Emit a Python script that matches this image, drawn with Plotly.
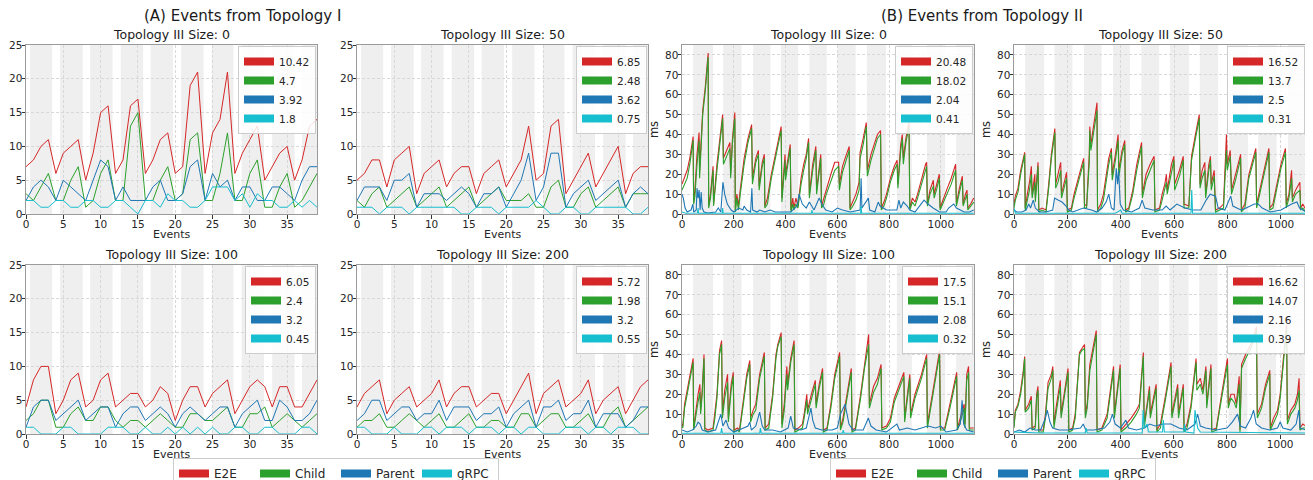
import plotly.graph_objects as go

FONT = "DejaVu Sans"
PAGE_W, PAGE_H = 1313, 480
OFF = 8                      # the browser's default body margin shifts the figure by 8 px
W, H = PAGE_W - OFF, PAGE_H - OFF

SERIES = ["E2E", "Child", "Parent", "gRPC"]
COLORS = ["#d62728", "#2ca02c", "#1f77b4", "#17becf"]

# ---------------- Topology I (events 0..39) ----------------
A_EVENTS = list(range(40))
A_SIZES = [0, 50, 100, 200]

A0_E2E = [7, 8, 10, 11, 6, 9, 10, 11, 5, 9, 15, 16, 6, 8, 16, 17, 6, 8, 11, 12, 6, 7, 19, 21, 6, 12, 14, 21, 6, 9, 11, 13, 5, 7, 9, 10, 5, 8, 13, 14]
A0_CHILD = [3, 2, 4, 6, 2, 2, 5, 7, 1, 2, 6, 8, 2, 2, 13, 15, 2, 2, 5, 7, 2, 3, 11, 12, 2, 2, 6, 12, 2, 2, 6, 8, 1, 1, 4, 6, 1, 2, 4, 6]
A0_PARENT = [2, 4, 5, 4, 2, 5, 4, 3, 2, 5, 8, 7, 2, 4, 2, 2, 2, 4, 5, 2, 2, 3, 7, 8, 2, 6, 4, 5, 2, 4, 4, 2, 2, 4, 4, 3, 2, 5, 7, 7]
A0_GRPC = [2, 2, 1, 1, 2, 2, 1, 1, 2, 2, 1, 1, 2, 2, 1, 0, 2, 2, 1, 3, 2, 2, 1, 1, 2, 4, 4, 4, 2, 3, 1, 3, 2, 2, 1, 1, 2, 1, 2, 1]

A1_E2E = [5, 6, 8, 8, 4, 8, 9, 10, 3, 6, 7, 8, 4, 6, 7, 7, 3, 6, 7, 8, 4, 6, 8, 13, 5, 6, 13, 14, 3, 5, 7, 9, 4, 6, 8, 10, 3, 6, 7, 7]
A1_CHILD = [2, 1, 3, 4, 1, 2, 3, 4, 1, 2, 3, 4, 1, 2, 3, 4, 1, 2, 3, 4, 2, 2, 2, 3, 1, 1, 4, 5, 1, 1, 3, 4, 1, 2, 3, 4, 1, 3, 3, 3]
A1_PARENT = [2, 4, 4, 4, 2, 5, 5, 6, 1, 3, 3, 3, 2, 3, 4, 3, 1, 3, 3, 4, 1, 3, 5, 9, 2, 4, 9, 9, 1, 3, 4, 5, 2, 3, 4, 5, 1, 3, 4, 3]
A1_GRPC = [1, 1, 1, 0, 1, 1, 1, 0, 1, 1, 1, 1, 1, 1, 0, 0, 1, 1, 1, 0, 1, 1, 1, 1, 2, 1, 0, 0, 1, 1, 0, 0, 1, 1, 1, 1, 1, 0, 0, 1]

A2_E2E = [4, 8, 10, 10, 3, 5, 8, 9, 4, 5, 8, 9, 4, 5, 6, 6, 4, 5, 7, 6, 2, 5, 7, 7, 4, 6, 7, 8, 3, 5, 7, 8, 7, 4, 7, 7, 4, 4, 6, 8]
A2_CHILD = [2, 3, 5, 5, 1, 1, 3, 4, 2, 2, 4, 4, 2, 1, 2, 2, 1, 2, 3, 2, 1, 1, 3, 3, 2, 2, 3, 4, 1, 1, 3, 3, 4, 1, 2, 3, 2, 1, 2, 3]
A2_PARENT = [1, 4, 5, 5, 2, 3, 4, 5, 2, 3, 4, 4, 1, 3, 4, 4, 2, 3, 4, 3, 1, 3, 4, 3, 2, 3, 4, 4, 1, 3, 4, 5, 2, 2, 5, 4, 2, 2, 3, 5]
A2_GRPC = [1, 1, 0, 0, 0, 1, 1, 0, 0, 0, 0, 1, 1, 1, 0, 0, 1, 0, 0, 1, 0, 1, 0, 1, 0, 1, 0, 0, 1, 1, 0, 0, 1, 1, 0, 0, 0, 1, 1, 0]

A3_E2E = [4, 6, 7, 8, 3, 5, 6, 7, 4, 5, 6, 8, 4, 6, 7, 7, 4, 5, 6, 6, 3, 5, 7, 9, 3, 6, 7, 8, 4, 5, 6, 8, 3, 5, 6, 7, 3, 5, 7, 8]
A3_CHILD = [1, 2, 2, 3, 1, 1, 2, 3, 2, 1, 2, 3, 1, 1, 2, 3, 1, 1, 2, 2, 1, 1, 3, 3, 1, 2, 3, 3, 1, 1, 2, 3, 1, 1, 3, 4, 1, 2, 3, 4]
A3_PARENT = [2, 3, 5, 5, 2, 3, 4, 4, 2, 3, 3, 5, 2, 4, 4, 4, 2, 3, 3, 4, 1, 3, 4, 5, 1, 4, 4, 5, 2, 3, 3, 5, 1, 3, 3, 3, 1, 2, 4, 4]
A3_GRPC = [1, 1, 0, 0, 0, 1, 0, 0, 0, 1, 1, 0, 1, 1, 1, 0, 1, 1, 1, 0, 1, 1, 0, 1, 1, 0, 0, 0, 1, 1, 1, 0, 1, 1, 0, 1, 1, 1, 0, 0]

A_MEANS = [["10.42", "4.7", "3.92", "1.8"], ["6.85", "2.48", "3.62", "0.75"],
           ["6.05", "2.4", "3.2", "0.45"], ["5.72", "1.98", "3.2", "0.55"]]

A_BANDS = [(0.55, 3.5), (4.55, 7.6), (8.6, 11.6), (12.7, 15.7), (16.7, 19.7),
           (20.8, 23.8), (24.9, 27.8), (28.9, 31.9), (33.0, 36.0), (37.0, 39.0)]

# ---------------- Topology II (sawtooth vertices: event, E2E, Child) ----------------
B_SIZES = [0, 50, 100, 200]

B0_E2E_CHILD = [(0,15,12),(10,19,15),(20,22,18),(30,28,25),(43,39,37),(45,6,5),(50,12,9),(58,30,25),(62,38,33),(66,41,37),(68,22,18),(72,32,28),(80,52,50),(90,64,62),(101,81,79),(103,4,3),(110,10,8),(120,24,22),(122,5,4),(135,25,22),(150,43,41),(157,50,48),(160,28,25),(170,31,28),(185,36,33),(188,20,18),(195,38,36),(204,51,48),(206,2,1),(212,10,8),(218,4,2),(225,12,10),(240,28,25),(255,38,36),(269,45,43),(272,18,15),(285,28,26),(295,32,30),(298,14,12),(310,26,24),(318,30,28),(320,4,3),(330,8,5),(345,20,18),(360,30,28),(372,38,36),(383,44,42),(386,8,6),(398,30,27),(400,20,17),(410,28,26),(418,35,33),(421,2,1),(428,8,5),(432,3,2),(440,8,5),(448,4,3),(460,18,15),(470,25,22),(480,30,28),(489,38,36),(492,10,8),(505,25,22),(517,34,32),(520,12,10),(528,22,19),(536,30,28),(539,4,3),(548,8,5),(555,12,9),(565,16,13),(575,20,17),(590,26,22),(605,26,24),(608,15,12),(620,24,21),(630,28,25),(646,34,32),(649,3,2),(660,6,4),(672,10,7),(684,16,12),(688,31,28),(700,38,35),(712,46,44),(716,22,19),(730,30,27),(745,36,34),(755,40,38),(767,42,40),(770,3,2),(780,6,4),(790,10,8),(805,18,16),(820,24,22),(831,27,25),(834,15,13),(845,35,32),(851,40,38),(855,28,25),(865,38,36),(877,46,44),(880,3,2),(890,8,6),(900,6,4),(910,10,8),(925,18,15),(941,25,22),(945,26,24),(948,5,4),(958,12,10),(971,17,14),(974,10,8),(985,15,13),(994,20,18),(997,3,2),(1010,8,6),(1025,13,11),(1040,18,15),(1057,25,22),(1060,5,4),(1070,12,10),(1083,19,17),(1086,5,4),(1095,10,8),(1101,12,10),(1104,3,2),(1115,5,4),(1127,8,6)]
B0_PARENT = [(0,10),(5,8),(12,3),(20,1),(35,2),(42,5),(45,1),(55,2),(58,13),(62,8),(66,12),(70,2),(74,11),(78,3),(85,1),(100,0.5),(130,1),(140,3),(150,1),(158,16),(165,10),(175,5),(190,2),(200,1),(210,2),(220,3),(235,2),(240,4),(250,2),(265,1),(270,13),(273,2),(290,1),(300,2),(320,1),(340,2),(360,1),(400,1),(420,1),(445,4),(452,10),(465,5),(480,3),(492,6),(510,2),(530,8),(540,5),(555,2),(580,1),(600,3),(620,2),(650,1),(688,2),(692,18),(695,3),(720,8),(725,2),(745,1),(758,6),(765,4),(790,2),(830,2),(838,7),(845,3),(855,6),(870,4),(880,2),(900,1),(935,7),(950,5),(970,3),(995,1),(1020,1),(1030,3),(1050,5),(1060,3),(1075,2),(1090,1),(1110,1),(1127,2)]
B0_GRPC = [(0,1),(15,0.4),(60,0.5),(62,3),(64,0.4),(155,0.4),(157,3),(159,0.4),(500,0.4),(502,2),(504,0.4),(690,0.4),(692,4),(694,0.4),(1127,0.4)]

B1_E2E_CHILD = [(0,5,3),(5,9,7),(15,13,11),(25,22,20),(40,31,30),(42,3,2),(50,10,7),(58,16,12),(65,24,20),(68,10,8),(78,20,16),(80,8,6),(90,26,24),(93,2,1),(105,3,2),(120,2,1),(130,15,13),(140,30,28),(153,43,41),(156,15,13),(165,20,16),(175,26,22),(178,10,8),(190,18,14),(197,21,18),(200,2,1),(215,3,2),(225,10,8),(240,18,16),(255,26,24),(261,28,26),(264,5,3),(272,4,3),(282,30,26),(284,44,42),(288,35,32),(300,45,42),(311,56,52),(313,2,1),(325,5,3),(335,10,7),(345,20,17),(355,28,25),(365,33,31),(368,20,17),(380,30,27),(390,40,37),(393,22,19),(405,32,30),(415,37,35),(418,2,1),(430,3,2),(445,12,10),(460,25,22),(478,36,34),(481,10,8),(495,20,17),(510,25,22),(525,29,27),(528,2,1),(545,3,2),(555,10,7),(565,15,12),(571,20,16),(574,12,10),(590,25,22),(599,29,27),(602,15,12),(620,22,19),(634,29,27),(637,5,3),(655,4,3),(665,29,27),(680,40,38),(694,50,48),(697,15,13),(705,22,18),(715,26,22),(718,10,8),(730,25,22),(736,29,27),(739,15,12),(750,22,19),(755,2,1),(770,3,2),(785,5,3),(796,40,32),(799,25,22),(810,32,29),(815,12,10),(830,20,17),(849,30,28),(852,2,1),(865,5,3),(880,20,18),(895,28,26),(906,33,31),(909,5,3),(925,15,13),(940,25,23),(955,33,31),(958,3,2),(970,5,3),(985,15,13),(1000,25,23),(1017,33,31),(1020,5,3),(1030,10,8),(1040,22,18),(1043,8,6),(1055,12,10),(1071,16,12),(1074,3,2),(1082,5,3),(1088,3,2),(1094,2,1)]
B1_PARENT = [(0,2),(10,1),(30,1),(45,2),(55,5),(62,3),(72,7),(80,3),(95,1),(120,1),(145,2),(152,8),(165,7),(180,6),(195,4),(205,2),(220,1),(240,2),(260,3),(290,2),(310,1),(330,3),(345,6),(355,10),(365,3),(375,2),(383,23),(388,15),(392,22),(398,5),(410,2),(440,1),(470,3),(480,7),(490,3),(520,2),(555,2),(570,4),(585,2),(610,5),(640,3),(670,2),(700,2),(720,7),(735,10),(755,9),(765,3),(790,2),(812,9),(820,4),(850,2),(870,3),(900,5),(915,5),(930,3),(960,1),(1000,2),(1040,5),(1060,6),(1070,3),(1085,2),(1094,1)]
B1_GRPC = [(0,3),(5,0.4),(380,0.4),(400,2),(405,0.4),(663,0.4),(666,12),(669,0.4),(1094,0.4)]

B2_E2E_CHILD = [(0,5,4),(3,4,3),(10,15,13),(20,22,20),(30,30,28),(43,38,36),(45,3,2),(56,15,12),(62,20,16),(69,25,21),(72,12,10),(78,22,20),(85,40,38),(88,3,2),(100,2,1),(120,3,2),(127,10,8),(135,20,18),(145,42,40),(153,47,45),(156,10,8),(165,22,18),(176,30,26),(179,8,6),(190,25,22),(198,31,29),(201,2,1),(215,3,2),(222,2,1),(235,15,13),(250,30,28),(262,37,35),(265,8,6),(275,12,10),(285,15,12),(300,30,28),(318,41,39),(321,3,2),(335,5,3),(350,20,18),(363,40,38),(370,45,44),(383,51,49),(386,5,3),(395,15,12),(405,34,30),(408,25,22),(420,38,36),(433,47,45),(436,2,1),(450,3,2),(465,5,3),(472,10,8),(482,20,17),(485,12,10),(500,20,18),(515,27,25),(518,15,13),(530,25,23),(543,33,31),(546,2,1),(560,3,2),(575,15,13),(590,30,28),(609,41,39),(612,3,2),(622,8,6),(635,18,16),(654,33,31),(657,2,1),(670,3,2),(690,20,18),(705,35,33),(721,50,45),(724,15,13),(740,24,21),(755,28,25),(769,35,33),(772,3,2),(790,4,3),(805,8,6),(820,18,16),(840,25,23),(857,31,29),(860,8,6),(870,20,18),(880,30,28),(883,10,8),(900,20,18),(925,30,28),(945,40,38),(948,5,3),(960,15,13),(980,30,28),(995,42,40),(998,3,2),(1015,3,2),(1035,15,13),(1050,25,23),(1061,31,29),(1064,3,2),(1075,8,6),(1090,15,13),(1093,5,3),(1100,30,27),(1107,34,31),(1110,3,2),(1127,3,2)]
B2_PARENT = [(0,2),(20,1),(40,2),(55,4),(62,6),(70,5),(78,2),(100,1),(130,2),(150,10),(158,4),(170,7),(180,3),(200,1),(220,2),(255,4),(262,6),(268,2),(285,4),(300,11),(310,4),(320,2),(350,2),(380,1),(410,3),(420,9),(430,3),(460,2),(480,3),(498,13),(505,7),(515,3),(540,2),(580,2),(600,3),(612,10),(630,15),(645,5),(660,2),(700,2),(720,8),(730,4),(750,2),(790,1),(830,5),(840,2),(870,3),(900,2),(950,4),(980,3),(1000,4),(1020,1),(1060,2),(1075,5),(1082,17),(1088,5),(1100,2),(1127,1)]
B2_GRPC = [(0,0.4),(150,0.4),(153,3),(156,0.4),(300,0.4),(303,3),(306,0.4),(620,0.4),(623,2),(626,0.4),(1127,0.4)]

B3_E2E_CHILD = [(0,4,3),(5,12,11),(15,15,14),(25,22,20),(35,32,30),(40,39,38),(42,12,11),(55,15,13),(65,19,17),(68,3,2),(80,4,3),(85,20,18),(90,24,22),(93,2,1),(110,2,1),(118,10,8),(128,26,23),(140,30,28),(146,34,32),(150,5,3),(160,15,12),(174,27,24),(177,10,8),(190,22,20),(203,33,31),(206,2,1),(220,3,2),(230,10,8),(240,28,25),(246,41,40),(255,43,42),(265,45,43),(268,10,8),(275,15,13),(285,35,32),(295,42,40),(309,52,50),(312,2,1),(330,3,2),(350,10,8),(360,20,18),(369,30,28),(374,34,32),(377,10,8),(390,25,23),(399,35,33),(402,2,1),(420,5,3),(440,8,6),(460,12,10),(471,15,13),(486,41,39),(489,5,3),(500,15,13),(509,24,22),(512,10,8),(525,20,18),(534,25,23),(537,2,1),(550,5,3),(570,20,18),(590,36,34),(593,10,8),(605,18,16),(615,25,23),(618,10,8),(630,20,18),(636,25,23),(639,2,1),(650,5,3),(665,15,13),(684,38,36),(687,25,22),(700,28,25),(710,22,20),(721,34,32),(724,15,13),(735,28,26),(740,35,33),(743,2,1),(760,3,2),(780,20,18),(802,38,35),(805,15,13),(815,20,18),(827,20,16),(835,15,13),(846,29,25),(849,2,1),(855,35,33),(870,40,38),(890,45,43),(911,54,52),(914,10,8),(930,15,13),(945,25,23),(961,32,30),(963,3,2),(975,8,6),(990,12,10),(1000,20,18),(1010,35,33),(1024,55,53),(1027,7,5),(1040,12,10),(1055,15,13),(1065,20,17),(1071,28,22),(1074,3,2),(1085,5,3),(1096,4,3)]
B3_PARENT = [(0,1),(20,2),(40,1),(60,3),(80,2),(100,2),(118,8),(125,12),(135,6),(145,3),(170,2),(200,2),(250,3),(260,5),(270,2),(300,2),(340,3),(360,6),(370,10),(380,5),(400,3),(420,7),(430,3),(460,2),(490,3),(510,5),(530,4),(560,5),(590,5),(620,3),(650,2),(680,5),(690,10),(700,4),(720,3),(760,2),(800,3),(820,6),(840,10),(850,4),(870,3),(890,8),(900,12),(910,5),(930,3),(960,2),(990,3),(1000,6),(1010,3),(1040,2),(1060,5),(1070,12),(1075,3),(1096,2)]
B3_GRPC = [(0,1),(100,0.5),(268,0.5),(271,3),(275,0.5),(482,0.5),(485,12),(490,3),(500,5),(505,1),(558,1),(561,7),(565,1),(638,1),(641,5),(645,1),(676,0.5),(680,12),(690,3),(700,1),(1096,0.5)]

B_MEANS = [["20.48", "18.02", "2.04", "0.41"], ["16.52", "13.7", "2.5", "0.31"],
           ["17.5", "15.1", "2.08", "0.32"], ["16.62", "14.07", "2.16", "0.39"]]

B_BANDS_LEFT = [(43, 120), (159, 230), (275, 342), (382, 449), (492, 559), (601, 671),
                (714, 788), (830, 888), (946, 1017), (1059, 1130)]
B_BANDS_RIGHT = [(42, 113), (152, 219), (262, 328), (371, 434), (477, 544), (584, 656),
                 (696, 765), (806, 877), (915, 984), (1027, 1094)]

# ---------------- layout geometry (page pixels) ----------------
PANEL_PX = [(26, 317, 45, 214), (357, 648, 45, 214), (26, 317, 265, 434), (357, 648, 265, 434),
            (682, 974, 45, 214), (1014, 1306, 45, 214), (682, 974, 265, 434), (1014, 1306, 265, 434)]


def fx(px):
    return (px - OFF) / W


def fy(py):
    return 1 - (py - OFF) / H


fig = go.Figure()
layout = dict(width=W, height=H, margin=dict(l=0, r=0, t=0, b=0, pad=0, autoexpand=False),
              paper_bgcolor="white", plot_bgcolor="white",
              font=dict(family=FONT, color="#262626"), showlegend=True)
shapes, annotations = [], []


def split_pairs(pairs):
    return [p[0] for p in pairs], [p[1] for p in pairs]


panels = []
A_DATA = [(A0_E2E, A0_CHILD, A0_PARENT, A0_GRPC), (A1_E2E, A1_CHILD, A1_PARENT, A1_GRPC),
          (A2_E2E, A2_CHILD, A2_PARENT, A2_GRPC), (A3_E2E, A3_CHILD, A3_PARENT, A3_GRPC)]
for k in range(4):
    panels.append(dict(size=A_SIZES[k], series=[(A_EVENTS, s) for s in A_DATA[k]],
                       means=A_MEANS[k], bands=A_BANDS, xr=[0, 39], yr=[0, 25],
                       xt=list(range(0, 40, 5)), yt=list(range(0, 26, 5)), lw=1.0))
B_DATA = [(B0_E2E_CHILD, B0_PARENT, B0_GRPC), (B1_E2E_CHILD, B1_PARENT, B1_GRPC),
          (B2_E2E_CHILD, B2_PARENT, B2_GRPC), (B3_E2E_CHILD, B3_PARENT, B3_GRPC)]
B_XMAX = [1128, 1094, 1128, 1097]
for k in range(4):
    ec, par, grpc = B_DATA[k]
    ex = [t[0] for t in ec]
    series = [(ex, [t[1] for t in ec]), (ex, [t[2] for t in ec]), split_pairs(par), split_pairs(grpc)]
    panels.append(dict(size=B_SIZES[k], series=series, means=B_MEANS[k],
                       bands=B_BANDS_LEFT if k % 2 == 0 else B_BANDS_RIGHT,
                       xr=[0, B_XMAX[k]], yr=[0, 85],
                       xt=list(range(0, 1001, 200)), yt=list(range(0, 81, 10)), lw=1.1))

for i, p in enumerate(panels):
    x0, x1, y0, y1 = PANEL_PX[i]
    sfx = "" if i == 0 else str(i + 1)
    xa, ya = "x" + sfx, "y" + sfx
    leg = "legend" + sfx
    for j, (xs, ys) in enumerate(p["series"]):
        fig.add_trace(go.Scatter(x=xs, y=ys, mode="lines", xaxis=xa, yaxis=ya,
                                 line=dict(color=COLORS[j], width=p["lw"]),
                                 showlegend=False, hoverinfo="skip"))
    for j in range(4):
        fig.add_trace(go.Scatter(x=[None], y=[None], mode="lines", xaxis=xa, yaxis=ya,
                                 name=p["means"][j], legend=leg,
                                 line=dict(color=COLORS[j], width=8)))
    axis_common = dict(showline=True, linecolor="#9a9a9a", linewidth=1, mirror=True,
                       ticks="outside", ticklen=3.5, tickwidth=0.8, tickcolor="#333",
                       showgrid=True, gridcolor="#d8d8d8", griddash="3px,2px", gridwidth=0.6,
                       zeroline=False, automargin=False, ticklabelstandoff=-3,
                       tickfont=dict(size=10.5, color="#262626"))
    layout["xaxis" + sfx] = dict(axis_common, domain=[fx(x0), fx(x1)], anchor=ya,
                                 range=p["xr"], tickvals=p["xt"])
    yax = dict(axis_common, domain=[fy(y1), fy(y0)], anchor=xa,
               range=p["yr"], tickvals=p["yt"])
    if i % 2 == 1:
        yax["title"] = dict(text="ms", font=dict(size=11.5), standoff=4)
    layout["yaxis" + sfx] = yax
    layout[leg] = dict(xref="container", yref="container",
                       x=fx(x1 - 1), xanchor="right", y=fy(y0 + 1), yanchor="top",
                       bgcolor="rgba(255,255,255,0.85)", bordercolor="#cccccc", borderwidth=1,
                       font=dict(size=10.5, color="#262626"), traceorder="normal",
                       itemwidth=30, tracegroupgap=0)
    for a, b in p["bands"]:
        shapes.append(dict(type="rect", xref=xa, yref=ya + " domain", x0=a, x1=b, y0=0, y1=1,
                           fillcolor="#efefef", line=dict(width=0), layer="below"))
    annotations.append(dict(text=f"Topology III Size: {p['size']}", xref="paper", yref="paper",
                            x=fx((x0 + x1) / 2), y=fy(y0 - 1), xanchor="center",
                            yanchor="bottom", showarrow=False, font=dict(size=12.5, color="#1a1a1a")))
    annotations.append(dict(text="Events", xref="paper", yref="paper",
                            x=fx((x0 + x1) / 2), y=fy(y1 + 20), xanchor="center",
                            yanchor="middle", showarrow=False, font=dict(size=11, color="#262626")))

# bottom legends
for leg, cx in (("legend9", 336), ("legend10", 993)):
    for j, s in enumerate(SERIES):
        fig.add_trace(go.Scatter(x=[None], y=[None], mode="lines", name=s, legend=leg,
                                 line=dict(color=COLORS[j], width=8)))
    layout[leg] = dict(xref="container", yref="container", orientation="h",
                       x=fx(cx), xanchor="center", y=fy(458), yanchor="top",
                       bgcolor="white", bordercolor="#cccccc", borderwidth=1,
                       font=dict(size=12, color="#262626"), traceorder="normal",
                       entrywidth=36, itemwidth=30)

annotations.append(dict(text="(A) Events from Topology I", xref="paper", yref="paper",
                        x=fx(242), y=fy(16), xanchor="center", yanchor="middle",
                        showarrow=False, font=dict(size=15, color="#1a1a1a")))
annotations.append(dict(text="(B) Events from Topology II", xref="paper", yref="paper",
                        x=fx(982), y=fy(16), xanchor="center", yanchor="middle",
                        showarrow=False, font=dict(size=15, color="#1a1a1a")))

layout["shapes"] = shapes
layout["annotations"] = annotations
fig.update_layout(**layout)
fig.write_html("out.html")
